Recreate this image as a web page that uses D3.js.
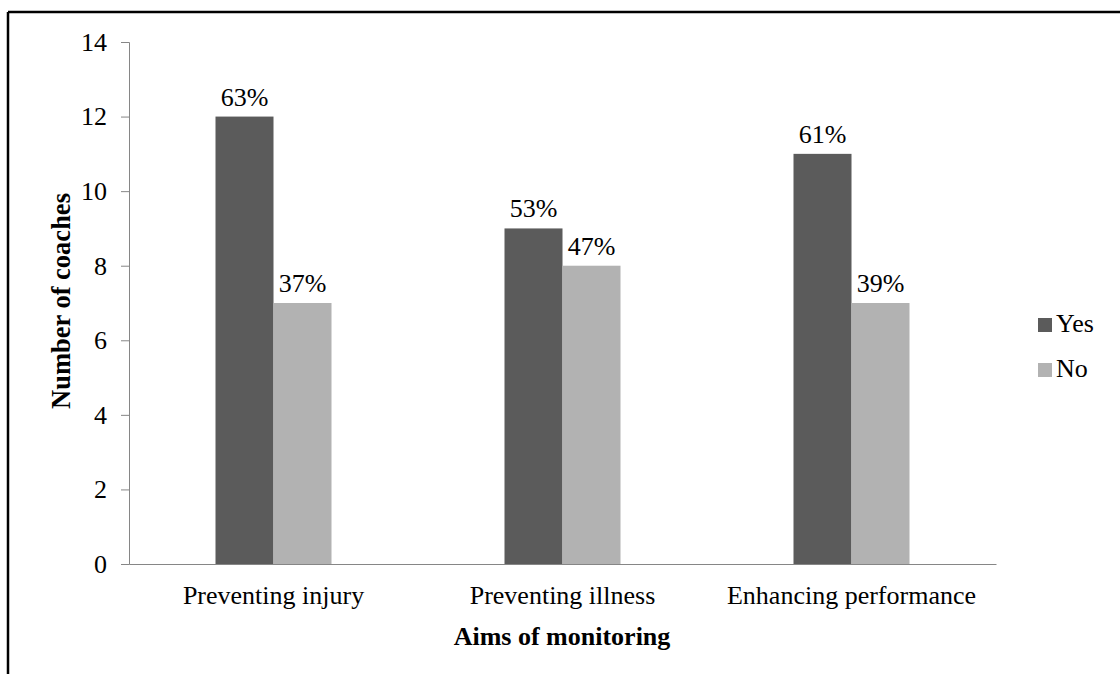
<!DOCTYPE html>
<html>
<head>
<meta charset="utf-8">
<script src="https://cdn.jsdelivr.net/npm/d3@7"></script>
<style>
  body { margin: 0; background: #fff; }
  svg { display: block; font-family: "Liberation Serif", "Times New Roman", serif; }
</style>
</head>
<body>
<svg id="chart" width="1120" height="674"></svg>
<script>
// Data van de grafiek
const categories = ["Preventing injury", "Preventing illness", "Enhancing performance"];
const seriesNames = ["Yes", "No"];
const yesValues = [12, 9, 11];
const noValues = [7, 8, 7];
const yesPct = ["63%", "53%", "61%"];
const noPct = ["37%", "47%", "39%"];
const yTicks = [0, 2, 4, 6, 8, 10, 12, 14];

const colors = { Yes: "#5b5b5b", No: "#b2b2b2" };

const svg = d3.select("#chart");

// Kader (alleen boven en links)
svg.append("line").attr("x1", 8).attr("x2", 1120).attr("y1", 12).attr("y2", 12)
  .attr("stroke", "#000").attr("stroke-width", 2.5);
svg.append("line").attr("x1", 8).attr("x2", 8).attr("y1", 12).attr("y2", 674)
  .attr("stroke", "#000").attr("stroke-width", 2.5);

// Schalen
const x0 = d3.scaleBand().domain(categories).range([129, 996]).paddingInner(0).paddingOuter(0);
const x1 = d3.scaleBand().domain(seriesNames).range([x0.bandwidth() / 2 - 58, x0.bandwidth() / 2 + 58]);
const y = d3.scaleLinear().domain([0, 14]).range([564, 42]);

// Rijen maken voor de balken
const rows = categories.map((c, i) => ({
  cat: c,
  vals: [
    { key: "Yes", v: yesValues[i], pct: yesPct[i] },
    { key: "No", v: noValues[i], pct: noPct[i] }
  ]
}));

// Y-as
const yAxis = svg.append("g").attr("transform", "translate(129,0)")
  .call(d3.axisLeft(y).tickValues(yTicks).tickSize(8).tickPadding(14));
yAxis.select(".domain").attr("stroke", "#868686");
yAxis.selectAll(".tick line").attr("stroke", "#868686");
yAxis.selectAll(".tick text").attr("fill", "#000").style("font-size", "26px")
  .style("font-family", "Liberation Serif, Times New Roman, serif");

// X-as
const xAxis = svg.append("g").attr("transform", "translate(0,564)")
  .call(d3.axisBottom(x0).tickSize(0).tickPadding(0));
xAxis.select(".domain").attr("stroke", "#868686");
xAxis.selectAll(".tick text").attr("fill", "#000").attr("dy", null).attr("y", 40)
  .style("font-size", "26px").style("font-family", "Liberation Serif, Times New Roman, serif");

// Balken
const groups = svg.selectAll("g.cat").data(rows).join("g")
  .attr("class", "cat")
  .attr("transform", d => `translate(${x0(d.cat)},0)`);

groups.selectAll("rect").data(d => d.vals).join("rect")
  .attr("x", d => x1(d.key))
  .attr("width", x1.bandwidth())
  .attr("y", d => y(d.v))
  .attr("height", d => y(0) - y(d.v))
  .attr("fill", d => colors[d.key]);

// Percentage labels
groups.selectAll("text.pct").data(d => d.vals).join("text")
  .attr("class", "pct")
  .attr("x", d => x1(d.key) + x1.bandwidth() / 2)
  .attr("y", d => y(d.v) - 11)
  .attr("text-anchor", "middle")
  .style("font-size", "26px")
  .text(d => d.pct);

// As titels
svg.append("text").attr("x", 562).attr("y", 645).attr("text-anchor", "middle")
  .style("font-size", "26px").style("font-weight", "bold").text("Aims of monitoring");
svg.append("text").attr("transform", "translate(70,301) rotate(-90)").attr("text-anchor", "middle")
  .style("font-size", "26.5px").style("font-weight", "bold").text("Number of coaches");

// Legenda
const legend = svg.selectAll("g.leg").data(seriesNames).join("g")
  .attr("class", "leg")
  .attr("transform", (d, i) => `translate(1038,${318 + i * 45})`);
legend.append("rect").attr("width", 14).attr("height", 14).attr("fill", d => colors[d]);
legend.append("text").attr("x", 18).attr("y", 14).style("font-size", "26px").text(d => d);
</script>
</body>
</html>
